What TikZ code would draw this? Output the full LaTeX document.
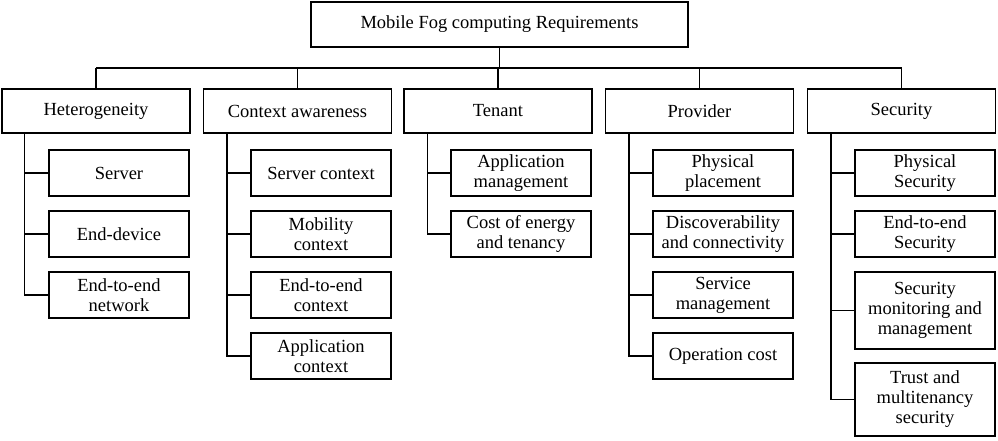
\documentclass[tikz,border=0pt]{standalone}
\usepackage{fontspec}
\setmainfont{Liberation Serif}
\tikzstyle{req} = [rectangle, draw=black, line width=1.1pt, text centered, align=center, inner sep=1pt, font=\fontsize{18.5}{20}\selectfont]
\tikzstyle{group} = [req, minimum width=188pt, minimum height=44pt]
\tikzstyle{item} = [req, minimum width=140pt, minimum height=46pt]
\tikzstyle{link} = [line width=1.1pt]

\begin{document}
\begin{tikzpicture}[x=1pt, y=-1pt]
  \useasboundingbox (0,0) rectangle (998,441);
  \node (top) [req, minimum width=377pt, minimum height=45pt] at (499.5,24.5) {Mobile Fog computing Requirements};

  \node (het) [group] at (96,111) {Heterogeneity};
  \node (ctx) [group] at (297.5,111) {Context awareness};
  \node (ten) [group] at (498,111) {Tenant};
  \node (pro) [group] at (699.5,111) {Provider};
  \node (sec) [group] at (901.5,111) {Security};

  % bus
  \coordinate (bus) at (499.5,68);
  \draw [link] (top) -- (bus);
  \draw [link] (het.north |- bus) -- (sec.north |- bus);
  \foreach \g in {het,ctx,ten,pro,sec}
    \draw [link] (\g.north |- bus) -- (\g.north);

  % Heterogeneity
  \node (het1) [item] at (119,173) {Server};
  \node (het2) [item] at (119,234) {End-device};
  \node (het3) [item] at (119,295) {End-to-end\\network};
  % Context awareness
  \node (ctx1) [item] at (321,173) {Server context};
  \node (ctx2) [item] at (321,234) {Mobility\\context};
  \node (ctx3) [item] at (321,295) {End-to-end\\context};
  \node (ctx4) [item] at (321,356) {Application\\context};
  % Tenant
  \node (ten1) [item] at (521,173) {Application\\management};
  \node (ten2) [item] at (521,234) {Cost of energy\\and tenancy};
  % Provider
  \node (pro1) [item] at (723,173) {Physical\\placement};
  \node (pro2) [item] at (723,234) {Discoverability\\and connectivity};
  \node (pro3) [item] at (723,295) {Service\\management};
  \node (pro4) [item] at (723,356) {Operation cost};
  % Security
  \node (sec1) [item] at (925,173) {Physical\\Security};
  \node (sec2) [item] at (925,234) {End-to-end\\Security};
  \node (sec3) [item, minimum height=77pt] at (925,310.5) {Security\\monitoring and\\management};
  \node (sec4) [item, minimum height=73pt] at (925,399.5) {Trust and\\multitenancy\\security};

  % trunks
  \path (het.south west) ++(23pt,0) coordinate (hett);
  \path (ctx.south west) ++(24pt,0) coordinate (ctxt);
  \path (ten.south west) ++(24pt,0) coordinate (tent);
  \path (pro.south west) ++(24pt,0) coordinate (prot);
  \path (sec.south west) ++(24pt,0) coordinate (sect);
  \foreach \c in {het1,het2,het3} \draw [link] (hett) |- (\c.west);
  \foreach \c in {ctx1,ctx2,ctx3,ctx4} \draw [link] (ctxt) |- (\c.west);
  \foreach \c in {ten1,ten2} \draw [link] (tent) |- (\c.west);
  \foreach \c in {pro1,pro2,pro3,pro4} \draw [link] (prot) |- (\c.west);
  \foreach \c in {sec1,sec2,sec3,sec4} \draw [link] (sect) |- (\c.west);
\end{tikzpicture}
\end{document}
